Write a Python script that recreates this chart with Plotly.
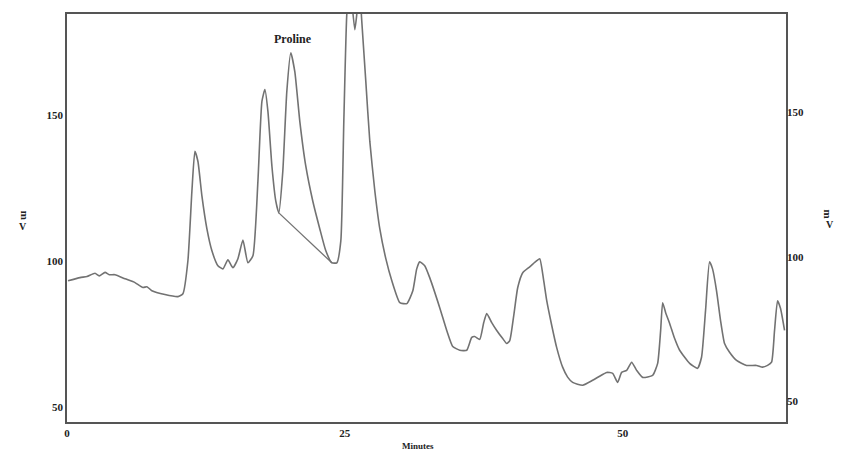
import plotly.graph_objects as go

# Chromatogram trace (minutes, mV)
minutes = [0.09, 1.17, 1.80, 2.52, 2.90, 3.42, 3.80, 4.32, 5.22, 6.12, 6.83, 7.19, 7.64, 8.81, 9.98, 10.43, 10.88,
           11.24, 11.51, 11.78, 12.14, 12.59, 13.04, 13.58, 14.03, 14.48, 14.93, 15.38, 15.83,
           16.28, 16.73, 17.18, 17.54, 17.81, 18.08, 18.44, 18.79, 19.06, 19.42, 19.78, 20.14,
           20.50, 20.95, 21.49, 22.12, 22.75, 23.29, 23.83, 24.28, 24.64, 24.91, 25.18, 25.45,
           25.90, 26.08, 26.30, 26.53, 26.89, 27.25, 27.70, 28.15, 28.69, 29.23, 29.95, 30.58,
           31.12, 31.47, 31.74, 32.19, 32.64, 33.54, 34.17, 34.71, 35.34, 35.97, 36.42, 36.69,
           37.14, 37.50, 37.77, 38.22, 38.67, 39.21, 39.57, 39.84, 40.20, 40.56, 41.01, 41.64,
           42.27, 42.54, 42.90, 43.17, 43.62, 44.06, 44.60, 45.05, 45.50, 46.40, 47.30, 47.93,
           48.56, 49.10, 49.55, 49.91, 50.36, 50.81, 51.26, 51.80, 52.70, 53.15, 53.42, 53.60,
           53.87, 54.23, 54.68, 55.13, 56.03, 56.74, 57.10, 57.46, 57.82, 58.09, 58.45, 58.81,
           59.17, 59.62, 60.25, 61.15, 62.05, 62.59, 63.04, 63.40, 63.67, 63.94, 64.21, 64.57]
signal_mv = [93.3, 94.4, 94.8, 95.9, 95.0, 96.2, 95.4, 95.4, 94.0, 92.7, 91.0, 91.3, 89.9, 88.6, 87.9, 88.9, 100.2,
             124.1, 137.7, 134.3, 122.4, 111.1, 103.6, 98.5, 97.4, 100.5, 97.8, 100.9, 107.3,
             99.5, 101.9, 127.5, 154.8, 158.9, 151.4, 132.6, 120.6, 116.6, 130.9, 158.2, 171.5,
             165.0, 148.0, 132.6, 120.6, 111.1, 103.6, 99.5, 99.5, 107.0, 148.0, 184.8, 195.0,
             179.4, 184.8, 195.0, 182.1, 161.6, 141.1, 124.1, 111.1, 100.9, 93.3, 85.8, 85.5,
             89.9, 97.4, 99.8, 98.5, 94.4, 84.1, 76.3, 70.8, 69.5, 69.5, 73.9, 74.2,
             73.2, 79.0, 82.1, 79.0, 76.3, 73.5, 71.8, 72.8, 81.4, 91.0, 96.1, 98.1,
             100.2, 100.9, 93.3, 86.5, 78.0, 70.5, 63.7, 60.3, 58.5, 57.5, 59.2, 60.6,
             61.9, 61.6, 58.5, 61.9, 62.6, 65.4, 62.6, 60.2, 60.9, 65.0, 76.3, 85.8,
             82.4, 78.7, 73.5, 69.5, 65.0, 63.3, 67.1, 83.1, 99.8, 97.4, 89.9, 79.7,
             71.8, 68.8, 66.0, 64.3, 64.3, 63.7, 64.3, 65.4, 76.3, 86.5, 83.8, 76.3]

# Integration baseline drawn under the proline peak
baseline_min = [19.06, 23.83]
baseline_mv = [116.6, 99.5]

x_ticks = [0, 25, 50]
y_ticks = [50, 100, 150]
peak_label = "Proline"
peak_label_pos = (20.3, 176.3)

line_col = "#727272"
txt_col = "#222222"
serif = "Liberation Serif, Times New Roman, serif"

fig = go.Figure()
fig.add_trace(go.Scatter(x=minutes, y=signal_mv, mode="lines",
                         line=dict(color=line_col, width=1.6, shape="spline", smoothing=0.5),
                         showlegend=False, hoverinfo="skip"))
fig.add_trace(go.Scatter(x=baseline_min, y=baseline_mv, mode="lines",
                         line=dict(color=line_col, width=1.3), showlegend=False,
                         hoverinfo="skip"))
# invisible trace on the right axis so it renders
fig.add_trace(go.Scatter(x=[minutes[0]], y=[signal_mv[0]], yaxis="y2", mode="lines",
                         line=dict(width=0), showlegend=False, hoverinfo="skip"))

tickfont = dict(family=serif, size=11, color=txt_col, weight="bold")
fig.update_layout(
    width=842, height=465,
    margin=dict(l=67, r=56, t=12, b=43),
    paper_bgcolor="white", plot_bgcolor="white",
    xaxis=dict(range=[0, 64.7], tickvals=x_ticks, showgrid=False, zeroline=False,
               showline=True, linecolor="#555555", linewidth=1.5, mirror=True,
               ticks="", tickfont=tickfont),
    yaxis=dict(range=[44.9, 184.8], tickvals=y_ticks, showgrid=False, zeroline=False,
               showline=True, linecolor="#555555", linewidth=1.5, mirror=True,
               ticks="", tickfont=tickfont),
    yaxis2=dict(range=[42.8, 184.1], tickvals=y_ticks, overlaying="y", side="right",
                showgrid=False, zeroline=False, showline=False, ticks="",
                tickfont=tickfont),
    annotations=[
        dict(x=peak_label_pos[0], y=peak_label_pos[1], xref="x", yref="y", text=peak_label,
             showarrow=False, font=dict(family=serif, size=12, color=txt_col, weight="bold")),
        dict(x=0.488, y=-0.076, xref="paper", yref="paper", text="Minutes", showarrow=False,
             font=dict(family=serif, size=9, color=txt_col, weight="bold")),
        dict(x=-0.0695, y=0.508, xref="paper", yref="paper", text="m", textangle=90,
             showarrow=False, font=dict(family=serif, size=11, color=txt_col, weight="bold")),
        dict(x=-0.0695, y=0.48, xref="paper", yref="paper", text="V",
             showarrow=False, font=dict(family=serif, size=10, color=txt_col, weight="bold")),
        dict(x=1.07, y=0.51, xref="paper", yref="paper", text="m", textangle=90,
             showarrow=False, font=dict(family=serif, size=11, color=txt_col, weight="bold")),
        dict(x=1.07, y=0.485, xref="paper", yref="paper", text="V",
             showarrow=False, font=dict(family=serif, size=10, color=txt_col, weight="bold")),
    ],
)

fig.write_html("out.html")
